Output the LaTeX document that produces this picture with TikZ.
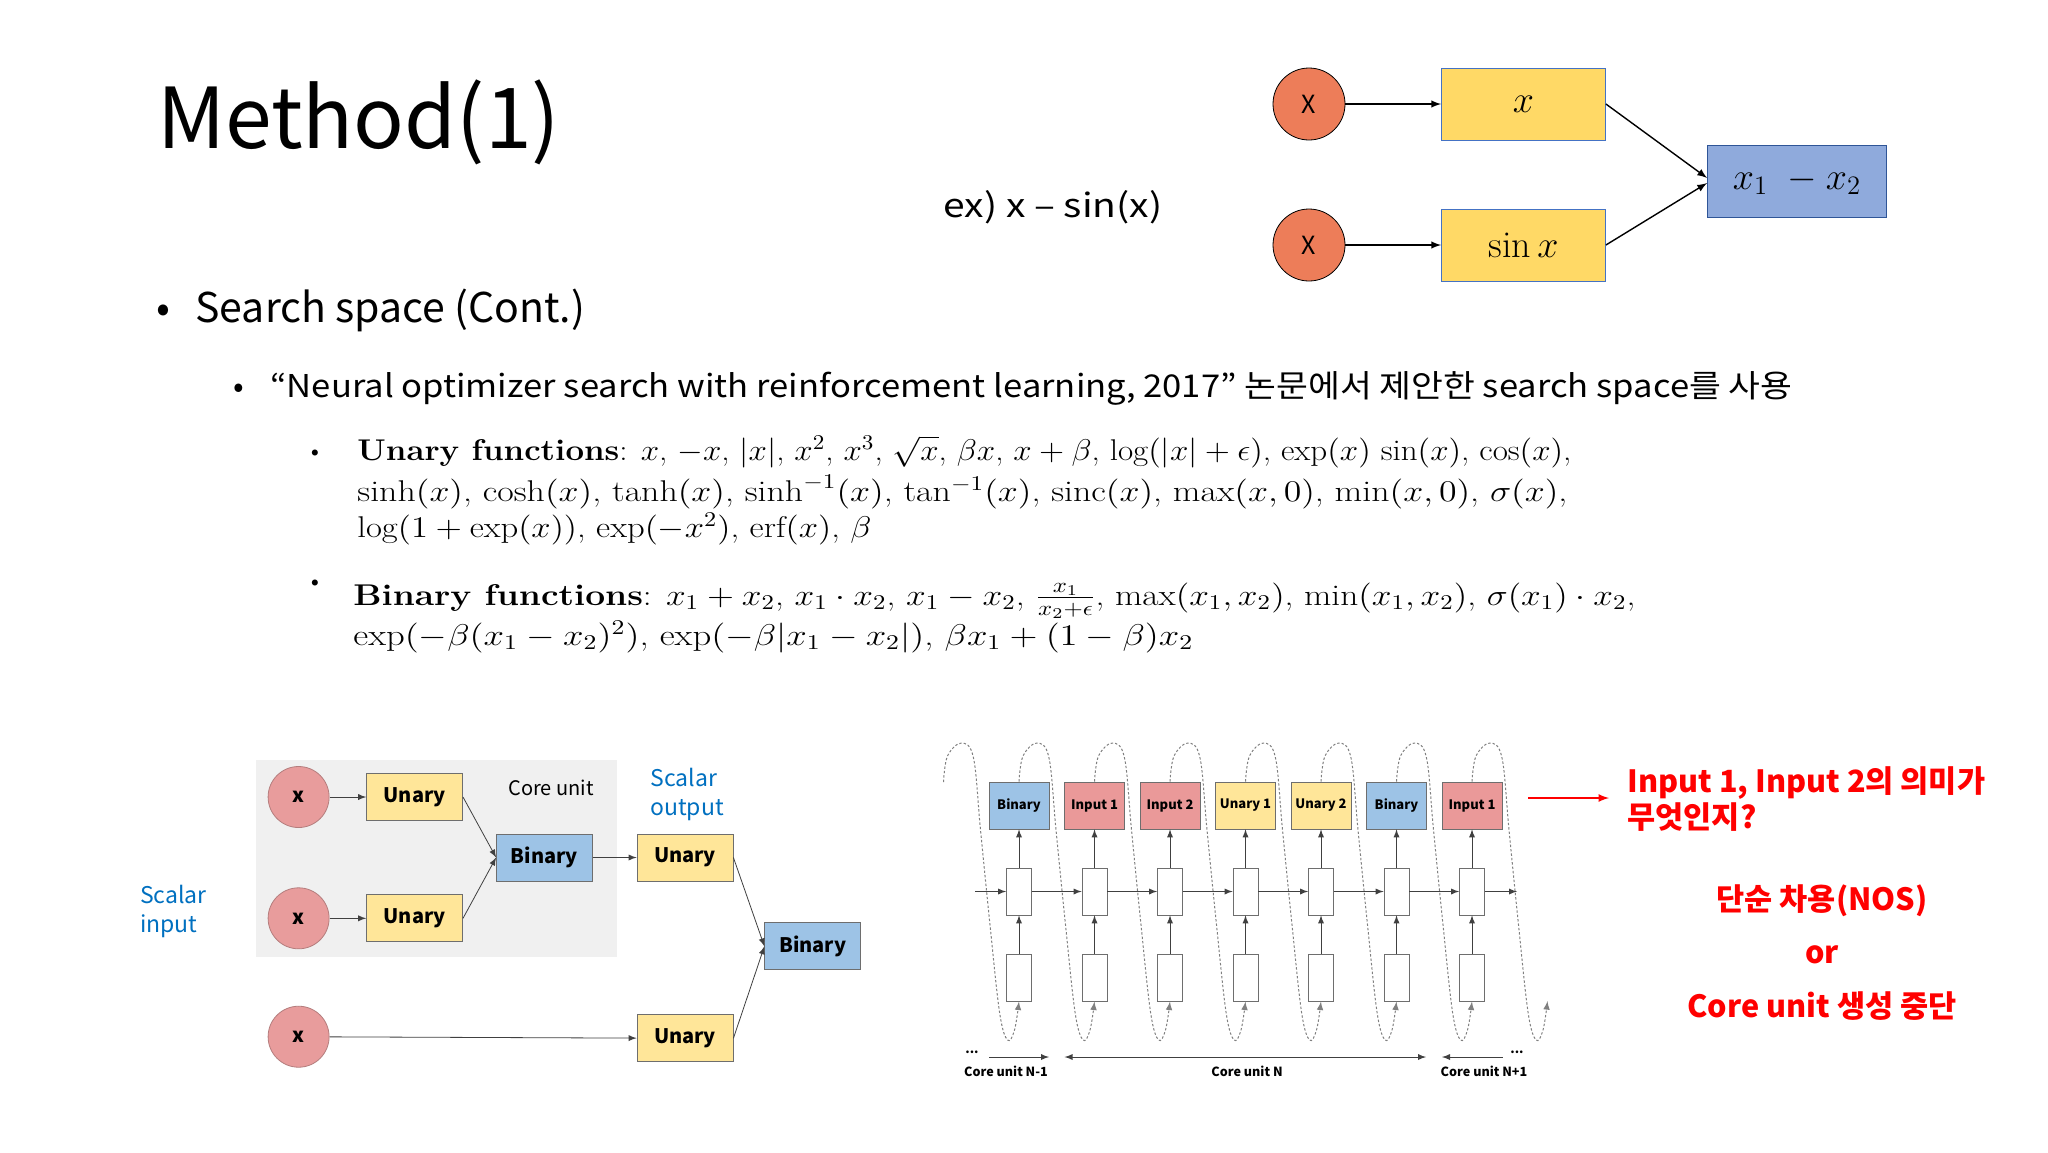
\RequirePackage{fix-cm}
\documentclass[tikz,border=0pt]{standalone}
\usepackage{amsmath}
\usepackage{amssymb}
\usepackage{graphicx}
\usepackage{fontspec}
\newfontfamily\kfont{Noto Sans CJK KR}
\usepackage{tikz}

\definecolor{circorange}{RGB}{237,125,89}
\definecolor{topyellow}{RGB}{255,217,102}
\definecolor{topblue}{RGB}{143,170,220}
\definecolor{yellowedge}{RGB}{68,114,196}
\definecolor{blueedge}{RGB}{47,85,151}
\definecolor{corebg}{RGB}{240,240,240}
\definecolor{pinkcirc}{RGB}{232,156,156}
\definecolor{pinkedge}{RGB}{180,125,125}
\definecolor{unaryfill}{RGB}{255,230,153}
\definecolor{binaryfill}{RGB}{157,195,230}
\definecolor{inputfill}{RGB}{234,153,153}
\definecolor{boxedge}{RGB}{110,110,110}
\definecolor{scalarblue}{RGB}{0,112,192}
\definecolor{alertred}{RGB}{255,0,0}

\begin{document}
\begin{tikzpicture}[>=latex, x=0.5pt, y=-0.5pt,
    every node/.style={font=\kfont},
    topcirc/.style={circle, draw, fill=circorange, minimum size=36pt, inner sep=0pt, font=\kfont\fontsize{12.5}{14}\selectfont},
    topbox/.style={draw=yellowedge, fill=topyellow, minimum width=82pt, minimum height=36pt, font=\fontsize{19}{22}\selectfont},
    xcirc/.style={circle, draw=pinkedge, fill=pinkcirc, minimum size=30.5pt, inner sep=0pt, font=\kfont\bfseries\fontsize{10}{12}\selectfont},
    fnbox/.style={draw=boxedge, minimum width=48pt, minimum height=23.5pt, inner sep=0pt, font=\kfont\bfseries\fontsize{10}{12}\selectfont},
    cellhead/.style={draw=boxedge, minimum width=30pt, minimum height=23.5pt, inner sep=0pt, font=\kfont\bfseries\fontsize{6.5}{8}\selectfont},
    cell/.style={draw=boxedge, fill=white, minimum width=12.5pt, minimum height=23.5pt, inner sep=0pt},
    thinarrow/.style={->, line width=0.4pt, draw=black!75},
    loopline/.style={->, gray, line width=0.5pt, dash pattern=on 1.2pt off 1pt},
    corelab/.style={inner sep=0pt, font=\kfont\bfseries\fontsize{6.3}{8}\selectfont},
    formula/.style={anchor=base west, inner sep=0pt, font=\rmfamily\fontsize{15}{18}\selectfont},
    redtext/.style={text=alertred, inner sep=0pt, font=\kfont\bfseries\fontsize{15.3}{18}\selectfont}
]
\useasboundingbox (0,0) rectangle (2048,1152);
\fill[white] (0,0) rectangle (2048,1152);

\node[anchor=base west, inner sep=0pt, font=\kfont\fontsize{42}{48}\selectfont] (title) at (157,148) {Method(1)};
\node[anchor=base west, inner sep=0pt, font=\kfont\fontsize{16.5}{19}\selectfont] (example) at (943,217) {\resizebox{109.5pt}{\height}{ex) x – sin(x)}};

\node[topcirc] (c1) at (1309,104) {X};
\node[topcirc] (c2) at (1309,245) {X};
\node[topbox] (xbox) at (1523.5,104) {$x$};
\node[topbox] (sinbox) at (1523.5,245) {$\sin x$};
\node[topbox, draw=blueedge, fill=topblue, minimum width=89.5pt] (diff) at (1797,181) {$x_1\ -x_2$};
\draw[->, line width=0.7pt] (c1) -- (xbox);
\draw[->, line width=0.7pt] (c2) -- (sinbox);
\draw[->, line width=0.7pt] (xbox.east) -- ([yshift=1.5pt]diff.west);
\draw[->, line width=0.7pt] (sinbox.east) -- ([yshift=-1pt]diff.west);

\node[anchor=base, inner sep=0pt, font=\kfont\fontsize{20.5}{24}\selectfont] (dot1) at (163,322) {•};
\node[anchor=base west, inner sep=0pt, font=\kfont\fontsize{20.5}{24}\selectfont] (search) at (195,322) {Search space (Cont.)};
\node[anchor=base, inner sep=0pt, font=\kfont\fontsize{15.7}{19}\selectfont] (dot2) at (239,397) {•};
\node[anchor=base west, inner sep=0pt, font=\kfont\fontsize{15.7}{19}\selectfont] (paper) at (270,397)
    {\resizebox{761pt}{\height}{“Neural optimizer search with reinforcement learning, 2017” 논문에서 제안한 search space를 사용}};

\node[inner sep=0pt, font=\fontsize{7}{8}\selectfont] (dot3) at (315,453) {$\bullet$};
\node[formula] (un1) at (357,460) {\resizebox{607pt}{\height}{\textbf{Unary functions}: $x$, $-x$, $|x|$, $x^2$, $x^3$, $\sqrt{x}$, $\beta x$, $x+\beta$, $\log(|x|+\epsilon)$, $\exp(x)$ $\sin(x)$, $\cos(x)$,}};
\node[formula] (un2) at (357,501) {\resizebox{605pt}{\height}{$\sinh(x)$, $\cosh(x)$, $\tanh(x)$, $\sinh^{-1}(x)$, $\tan^{-1}(x)$, $\operatorname{sinc}(x)$, $\max(x,0)$, $\min(x,0)$, $\sigma(x)$,}};
\node[formula] (un3) at (357,537) {\resizebox{257pt}{\height}{$\log(1+\exp(x))$, $\exp(-x^2)$, $\operatorname{erf}(x)$, $\beta$}};
\node[inner sep=0pt, font=\fontsize{7}{8}\selectfont] (dot4) at (315,583) {$\bullet$};
\node[formula] (bi1) at (353,605) {\resizebox{641pt}{\height}{\textbf{Binary functions}: $x_1+x_2$, $x_1\cdot x_2$, $x_1-x_2$, $\frac{x_1}{x_2+\epsilon}$, $\max(x_1,x_2)$, $\min(x_1,x_2)$, $\sigma(x_1)\cdot x_2$,}};
\node[formula] (bi2) at (353,645) {\resizebox{420pt}{\height}{$\exp(-\beta(x_1-x_2)^2)$, $\exp(-\beta|x_1-x_2|)$, $\beta x_1+(1-\beta)x_2$}};

\fill[corebg] (256,760) rectangle (617,957);
\node[font=\kfont\fontsize{10}{12}\selectfont] (corename) at (551,788) {Core unit};
\node[xcirc] (in1) at (298.6,797) {x};
\node[xcirc] (in2) at (298.6,918.3) {x};
\node[xcirc] (in3) at (298.6,1036.7) {x};
\node[fnbox, fill=unaryfill] (un1box) at (414.6,797) {Unary};
\node[fnbox, fill=unaryfill] (un2box) at (414.6,918.3) {Unary};
\node[fnbox, fill=binaryfill] (bin1box) at (544.5,857.5) {Binary};
\node[fnbox, fill=unaryfill] (un3box) at (685,857.5) {Unary};
\node[fnbox, fill=binaryfill] (bin2box) at (812.8,946.3) {Binary};
\node[fnbox, fill=unaryfill] (un4box) at (685,1038.3) {Unary};
\node[anchor=north west, align=left, inner sep=0pt, text=scalarblue, font=\kfont\fontsize{11.5}{14.2}\selectfont] (sout) at (650,768) {Scalar\\output};
\node[anchor=north west, align=left, inner sep=0pt, text=scalarblue, font=\kfont\fontsize{11.5}{14.2}\selectfont] (sin) at (139.6,885) {Scalar\\input};
\draw[thinarrow] (in1) -- (un1box);
\draw[thinarrow] (in2) -- (un2box);
\draw[thinarrow] (in3) -- (un4box);
\draw[thinarrow] (un1box.east) -- (bin1box.west);
\draw[thinarrow] (un2box.east) -- (bin1box.west);
\draw[thinarrow] (bin1box) -- (un3box);
\draw[thinarrow] (un3box.east) -- (bin2box.west);
\draw[thinarrow] (un4box.east) -- (bin2box.west);

\foreach \i/\lab/\col in {1/Binary/binaryfill, 2/Input 1/inputfill, 3/Input 2/inputfill, 4/Unary 1/unaryfill, 5/Unary 2/unaryfill, 6/Binary/binaryfill, 7/Input 1/inputfill}{
    \pgfmathsetmacro\xc{1019+75.5*(\i-1)}
    \node[cellhead, fill=\col] (head\i) at (\xc,805.5) {\lab};
    \node[cell] (mid\i) at (\xc,891.5) {};
    \node[cell] (low\i) at (\xc,977.5) {};
    \coordinate (top\i) at (head\i.north);
    \coordinate (bot\i) at (low\i.south);
    \draw[thinarrow] (low\i) -- (mid\i);
    \draw[thinarrow] (mid\i) -- (head\i);
}
\coordinate (top0) at (943.5,782);
\coordinate (bot8) at (1547.5,1001);
\coordinate (hin) at (975,891.5);
\coordinate (hout) at (1517,891.5);
\draw[thinarrow] (hin) -- (mid1);
\foreach \i [count=\j from 2] in {1,...,6}{
    \draw[thinarrow] (mid\i) -- (mid\j);
}
\draw[thinarrow] (mid7) -- (hout);
\foreach \i [count=\j from 1] in {0,...,7}{
    \pgfmathsetmacro\xa{1019+75.5*(\i-1)}
    \draw[loopline] plot[smooth, tension=0.6] coordinates {(top\i) (\xa+4,756) (\xa+18,743) (\xa+30,758) (\xa+37,830) (\xa+46,920) (\xa+56,1012) (\xa+64,1040) (\xa+71,1030) (bot\j)};
}

\node[corelab] (dotsl) at (972,1052) {...};
\node[corelab] (dotsr) at (1517,1052) {...};
\node[corelab] (cuprev) at (1006,1071) {Core unit N-1};
\node[corelab] (cucur) at (1247,1071) {Core unit N};
\node[corelab] (cunext) at (1484,1071) {Core unit N+1};
\coordinate (pa) at (989,1057);
\coordinate (pb) at (1049,1057);
\coordinate (ca) at (1064.6,1057);
\coordinate (cb) at (1426,1057);
\coordinate (na) at (1502.5,1057);
\coordinate (nb) at (1442,1057);
\draw[thinarrow] (pa) -- (pb);
\draw[thinarrow, <->] (ca) -- (cb);
\draw[thinarrow] (na) -- (nb);

\node[redtext, align=left, anchor=north west] (question) at (1627,766) {Input 1, Input 2의 의미가\\무엇인지?};
\coordinate (qtail) at (1528,798);
\draw[->, alertred, line width=0.8pt, shorten >=9pt] (qtail) -- (qtail -| question.west);
\node[redtext, anchor=base] (reuse) at (1822,910) {단순 차용(NOS)};
\node[redtext, anchor=base] (orword) at (1822,963) {or};
\node[redtext, anchor=base] (stopgen) at (1822,1017) {Core unit 생성 중단};
\end{tikzpicture}
\end{document}
